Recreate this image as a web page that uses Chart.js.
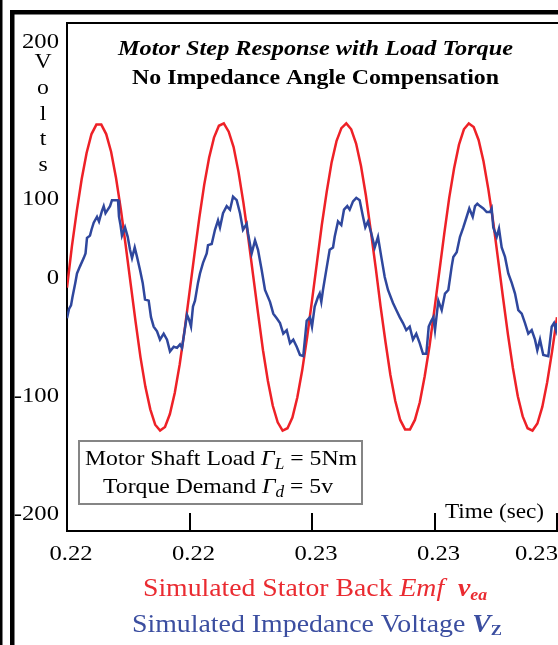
<!DOCTYPE html>
<html><head><meta charset="utf-8">
<script src="https://cdn.jsdelivr.net/npm/chart.js@4/dist/chart.umd.min.js"></script>
<style>html,body{margin:0;padding:0;background:#fff;overflow:hidden}canvas{display:block}</style>
</head><body>
<canvas id="c" width="558" height="645"></canvas>
<script>
// ---------- DATA ----------
const emfTime = [
0.2200,0.2201,0.2202,0.2203,0.2204,0.2205,0.2206,0.2207,0.2208,0.2209,
0.2210,0.2211,0.2212,0.2213,0.2214,0.2215,0.2216,0.2217,0.2218,0.2219,
0.2220,0.2221,0.2222,0.2223,0.2224,0.2225,0.2226,0.2227,0.2228,0.2229,
0.2230,0.2231,0.2232,0.2233,0.2234,0.2235,0.2236,0.2237,0.2238,0.2239,
0.2240,0.2241,0.2242,0.2243,0.2244,0.2245,0.2246,0.2247,0.2248,0.2249,
0.2250,0.2251,0.2252,0.2253,0.2254,0.2255,0.2256,0.2257,0.2258,0.2259,
0.2260,0.2261,0.2262,0.2263,0.2264,0.2265,0.2266,0.2267,0.2268,0.2269,
0.2270,0.2271,0.2272,0.2273,0.2274,0.2275,0.2276,0.2277,0.2278,0.2279,
0.2280,0.2281,0.2282,0.2283,0.2284,0.2285,0.2286,0.2287,0.2288,0.2289,
0.2290,0.2291,0.2292,0.2293,0.2294,0.2295,0.2296,0.2297,0.2298,0.2299,
0.2300];
const emfVolts = [
-9,26,56,83,105,121,129,129,121,106,
84,57,26,-6,-38,-68,-93,-112,-125,-130,
-127,-116,-98,-74,-45,-13,19,50,78,101,
118,128,130,123,110,89,63,33,1,-31,
-62,-88,-109,-123,-130,-128,-119,-102,-79,-51,
-20,12,44,72,97,115,126,130,125,113,
94,69,39,8,-25,-55,-83,-105,-121,-129,
-129,-121,-106,-84,-58,-27,5,37,67,92,
112,125,130,127,116,98,74,46,14,-18,
-49,-77,-101,-118,-128,-130,-124,-110,-89,-63,
-34];
const impTime = [
0.220000,0.220041,0.220082,0.220112,0.220169,0.220204,0.220265,0.220341,0.220378,0.220408,
0.220469,0.220500,0.220545,0.220612,0.220653,0.220673,0.220714,0.220749,0.220786,0.220816,
0.220878,0.220918,0.221041,0.221061,0.221092,0.221122,0.221184,0.221239,0.221286,0.221327,
0.221382,0.221429,0.221490,0.221545,0.221592,0.221667,0.221714,0.221769,0.221837,0.221898,
0.221973,0.222041,0.222102,0.222178,0.222245,0.222306,0.222347,0.222402,0.222449,0.222490,
0.222531,0.222571,0.222612,0.222673,0.222714,0.222776,0.222851,0.222878,0.222953,0.223020,
0.223082,0.223122,0.223184,0.223259,0.223327,0.223388,0.223463,0.223531,0.223592,0.223667,
0.223694,0.223769,0.223837,0.223898,0.223973,0.224041,0.224143,0.224210,0.224280,0.224347,
0.224414,0.224484,0.224551,0.224618,0.224688,0.224755,0.224822,0.224892,0.224959,0.225000,
0.225055,0.225122,0.225157,0.225190,0.225224,0.225292,0.225361,0.225429,0.225463,0.225531,
0.225598,0.225653,0.225720,0.225769,0.225837,0.225904,0.225973,0.226041,0.226088,0.226143,
0.226210,0.226280,0.226347,0.226414,0.226484,0.226551,0.226653,0.226720,0.226790,0.226857,
0.226924,0.226994,0.227061,0.227128,0.227198,0.227265,0.227333,0.227382,0.227435,0.227476,
0.227510,0.227578,0.227647,0.227714,0.227782,0.227851,0.227884,0.227953,0.228020,0.228088,
0.228157,0.228210,0.228280,0.228327,0.228374,0.228429,0.228496,0.228565,0.228633,0.228667,
0.228700,0.228769,0.228816,0.228871,0.228939,0.229006,0.229076,0.229143,0.229210,0.229280,
0.229347,0.229414,0.229484,0.229551,0.229598,0.229653,0.229720,0.229822,0.229892,0.229939,
0.229980,0.230000];
const impVolts = [
-35,-27,-24,-17,-5,3,9,16,20,33,
35,40,46,51,47,50,56,60,54,56,
60,65,65,51,44,35,42,34,23,16,
25,17,6,-5,-19,-20,-34,-42,-46,-53,
-48,-53,-63,-59,-60,-57,-60,-45,-32,-36,
-42,-25,-20,-5,3,12,20,27,28,40,
48,42,54,60,57,68,65,54,40,45,
37,20,31,23,6,-11,-21,-31,-35,-39,
-48,-45,-56,-53,-59,-66,-67,-37,-34,-42,
-25,-17,-14,-21,-11,6,23,25,34,47,
44,57,60,57,64,67,65,51,42,47,
37,25,34,17,0,-11,-22,-28,-34,-39,
-45,-42,-53,-48,-56,-65,-65,-42,-37,-34,
-45,-20,-28,-14,-11,9,17,21,34,42,
51,58,51,60,62,60,58,55,55,58,
42,34,41,25,17,3,-5,-14,-28,-31,
-39,-48,-45,-53,-62,-53,-66,-67,-42,-39,
-45,-39];
const xTickValues = [0.22, 0.2225, 0.225, 0.2275, 0.23];
const xTickLabels = ['0.22','0.22','0.23','0.23','0.23'];
const yTickValues = [200, 100, 0, -100, -200];
const yTickLabels = ['200','100','0','-100','-200'];
const yAxisWord = ['V','o','l','t','s'];

// ---------- STYLE ----------
const RED = '#EE2127', BLUE = '#2F479D';
const RED_TXT = '#EA2B31', BLUE_TXT = '#3B4EA0';
const SERIF = "'Liberation Serif','Times New Roman',serif";
const font = (style, size) => `${style} ${size}px ${SERIF}`;
const SX = 1.12; // horizontal stretch of the reference lettering

function drawRuns(ctx, runs, x, baseline, opts) {
  ctx.save();
  let W = 0;
  runs.forEach(r => { ctx.font = r.font; r.w = ctx.measureText(r.t).width; W += r.w; });
  const sx = opts.width ? opts.width / W : (opts.sx || SX);
  const total = W * sx;
  const left = opts.align === 'center' ? x - total / 2 : opts.align === 'right' ? x - total : x;
  ctx.translate(left, baseline);
  ctx.scale(sx, 1);
  ctx.textBaseline = 'alphabetic';
  ctx.textAlign = 'left';
  let cx = 0;
  runs.forEach(r => {
    ctx.font = r.font; ctx.fillStyle = r.color || '#000';
    ctx.fillText(r.t, cx, r.dy || 0); cx += r.w;
  });
  ctx.restore();
  return total;
}

const decor = {
  id: 'decor',
  afterDraw(chart) {
    const ctx = chart.ctx, a = chart.chartArea;
    const xs = chart.scales.x, ys = chart.scales.y;
    ctx.save();
    ctx.fillStyle = '#000';
    // outer page frame
    ctx.fillRect(0, 0, 2.5, 645);
    ctx.fillRect(10, 10, 4.5, 635);
    ctx.fillRect(10, 10, 548, 4.5);
    // top border of plot
    ctx.fillRect(a.left - 1, a.top - 1, a.right - a.left + 2, 2);
    // inward x ticks
    xTickValues.forEach((v, i) => {
      if (i === 0) return;
      const px = Math.round(xs.getPixelForValue(v));
      ctx.fillRect(px - 1, a.bottom - 18, 2, 18);
    });
    ctx.restore();

    // x tick labels
    xTickValues.forEach((v, i) => {
      const px = xs.getPixelForValue(v) + 4;
      const r = [{t: xTickLabels[i], font: font('', 22)}];
      if (i === xTickValues.length - 1) drawRuns(ctx, r, 558, 560, {align: 'right'});
      else drawRuns(ctx, r, px, 560, {align: 'center'});
    });
    // y axis word
    let lastB = 0;
    yAxisWord.forEach((ch, i) => {
      const b = 68 + i * 25.8;
      drawRuns(ctx, [{t: ch, font: font('', 22)}], 43, b, {align: 'center', sx: 1.08});
      lastB = b;
    });
    // y tick labels
    yTickValues.forEach((v, i) => {
      let b = ys.getPixelForValue(v) + 7;
      if (v === 100) b = Math.max(b, lastB + 34);
      drawRuns(ctx, [{t: yTickLabels[i], font: font('', 22)}], 59, b, {align: 'right'});
    });
    // titles
    drawRuns(ctx, [{t: 'Motor Step Response with Load Torque', font: font('italic bold', 22)}], 118, 55, {width: 395});
    drawRuns(ctx, [{t: 'No Impedance Angle Compensation', font: font('bold', 22)}], 132, 84, {width: 367});
    // info box
    ctx.save();
    ctx.strokeStyle = '#858585'; ctx.lineWidth = 2;
    ctx.fillStyle = '#fff';
    ctx.fillRect(78, 440, 285, 65);
    ctx.strokeRect(79, 441, 283, 63);
    ctx.restore();
    drawRuns(ctx, [
      {t: 'Motor Shaft Load ', font: font('', 22)},
      {t: 'Γ', font: font('italic', 22)},
      {t: 'L', font: font('italic', 16), dy: 4},
      {t: ' = 5Nm', font: font('', 22)}
    ], 85, 465, {width: 272});
    drawRuns(ctx, [
      {t: 'Torque Demand ', font: font('', 22)},
      {t: 'Γ', font: font('italic', 22)},
      {t: 'd', font: font('italic', 16), dy: 4},
      {t: ' = 5v', font: font('', 22)}
    ], 103, 493, {width: 230});
    // axis title
    drawRuns(ctx, [{t: 'Time (sec)', font: font('', 22)}], 445, 518, {width: 99});
    // bottom legend
    drawRuns(ctx, [
      {t: 'Simulated Stator Back ', font: font('', 25), color: RED_TXT},
      {t: 'Emf', font: font('italic', 25), color: RED_TXT},
      {t: '  ', font: font('', 25), color: RED_TXT},
      {t: 'v', font: font('italic bold', 25), color: RED_TXT},
      {t: 'ea', font: font('italic bold', 16), color: RED_TXT, dy: 4}
    ], 143, 596, {width: 344});
    drawRuns(ctx, [
      {t: 'Simulated Impedance Voltage ', font: font('', 25), color: BLUE_TXT},
      {t: 'V', font: font('italic bold', 25), color: BLUE_TXT},
      {t: 'Z', font: font('bold', 15), color: BLUE_TXT, dy: 3}
    ], 132, 632, {width: 370});
  }
};

new Chart(document.getElementById('c'), {
  type: 'line',
  data: {
    datasets: [
      {label: 'Simulated Impedance Voltage', data: impTime.map((t, i) => ({x: t, y: impVolts[i]})),
       borderColor: BLUE, borderWidth: 2.5, pointRadius: 0, tension: 0, fill: false},
      {label: 'Simulated Stator Back Emf', data: emfTime.map((t, i) => ({x: t, y: emfVolts[i]})),
       borderColor: RED, borderWidth: 2.5, pointRadius: 0, tension: 0, fill: false}
    ]
  },
  options: {
    responsive: false, animation: false, devicePixelRatio: 1,
    layout: {padding: {left: 67, top: 23, right: 1, bottom: 114}},
    plugins: {legend: {display: false}, tooltip: {enabled: false}, title: {display: false}},
    scales: {
      x: {type: 'linear', min: 0.22, max: 0.23,
          afterBuildTicks: s => { s.ticks = xTickValues.map(v => ({value: v})); },
          ticks: {display: false}, grid: {display: false, drawTicks: false},
          border: {display: true, color: '#000', width: 2}},
      y: {type: 'linear', min: -215, max: 215,
          afterBuildTicks: s => { s.ticks = yTickValues.map(v => ({value: v})); },
          ticks: {display: false}, grid: {display: false, drawTicks: false},
          border: {display: true, color: '#000', width: 2}}
    }
  },
  plugins: [decor]
});
</script>
</body></html>
